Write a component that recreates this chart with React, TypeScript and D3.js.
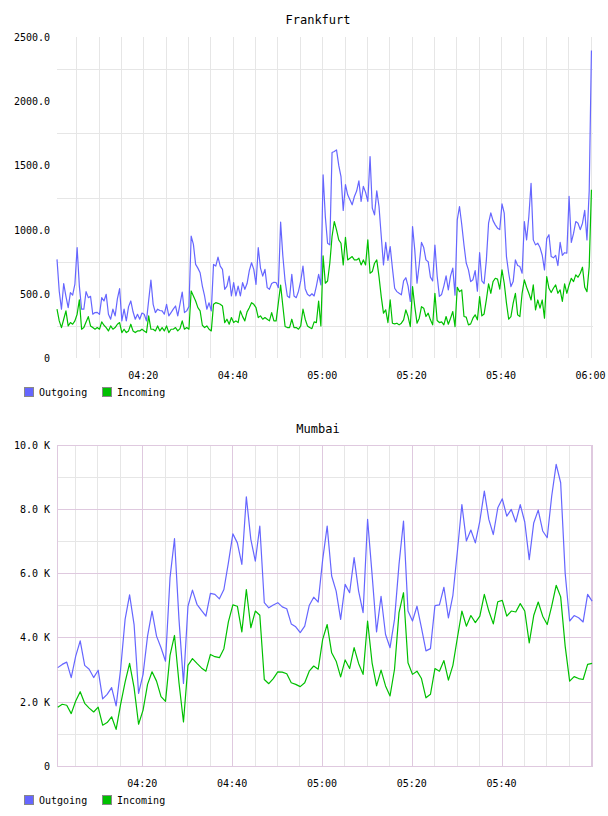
import React from 'react';
import * as d3 from 'd3';

const FONT = '"DejaVu Sans Mono", monospace';
const OUT_COLOR = '#6666ff';
const IN_COLOR = '#00c000';
const GRID_GRAY = '#e6e6e6';
const GRID_PINK = '#dfc9df';

const PLOT_LEFT = 57;
const PLOT_RIGHT = 593;

const SERIES_NAMES = ['Outgoing', 'Incoming'];

// Frankfurt, 30 s samples from 04:00:42
const frankfurtOutgoing = [
  768, 520, 380, 580, 480, 392, 509, 490, 575, 859,
  560, 380, 380, 517, 470, 480, 341, 354, 355, 340,
  470, 444, 496, 341, 302, 380, 328, 460, 540, 289,
  380, 289, 400, 444, 360, 302, 340, 302, 350, 341,
  289, 450, 607, 418, 354, 380, 370, 367, 341, 418,
  328, 354, 380, 405, 328, 420, 514, 354, 367, 400,
  949, 885, 729, 700, 664, 560, 483, 380, 430, 367,
  729, 716, 786, 716, 690, 535, 560, 638, 483, 587,
  483, 560, 483, 587, 535, 580, 680, 742, 690, 574,
  859, 700, 638, 690, 548, 535, 580, 590, 587, 548,
  1058, 794, 600, 483, 470, 651, 483, 470, 520, 600,
  716, 540, 496, 483, 500, 483, 560, 651, 569, 1426,
  1100, 894, 881, 1600, 1608, 1621, 1500, 1413, 1150, 1350,
  1271, 1232, 1193, 1258, 1300, 1380, 1219, 1336, 1290, 1219,
  1569, 1167, 1115, 1302, 1180, 950, 725, 900, 760, 868,
  700, 543, 517, 504, 492, 600, 625, 560, 440, 1024,
  840, 582, 730, 900, 860, 764, 750, 630, 600, 880,
  640, 480, 495, 560, 640, 530, 640, 700, 490, 1076,
  1180, 1040, 880, 740, 686, 595, 610, 680, 520, 820,
  600, 580, 760, 1050, 1130, 1070, 1037, 1011, 1000, 1200,
  1128, 790, 660, 556, 595, 764, 720, 712, 660, 1063,
  920, 1100, 1361, 920, 881, 894, 860, 800, 686, 930,
  960, 790, 780, 800, 720, 900, 800, 820, 816, 1258,
  900, 970, 1063, 1050, 1000, 1050, 1150, 920, 1300, 2395,
];

const frankfurtIncoming = [
  380, 289, 237, 302, 367, 250, 276, 263, 289, 341,
  452, 224, 237, 281, 322, 250, 237, 224, 237, 224,
  281, 255, 237, 211, 250, 224, 237, 263, 276, 198,
  224, 198, 211, 263, 211, 198, 211, 211, 224, 211,
  198, 328, 224, 224, 211, 250, 211, 237, 211, 250,
  198, 224, 224, 237, 211, 229, 289, 224, 237, 224,
  522, 483, 444, 392, 367, 255, 237, 250, 224, 211,
  418, 431, 426, 418, 405, 276, 302, 263, 315, 276,
  289, 276, 367, 322, 289, 359, 392, 431, 418, 392,
  315, 328, 302, 315, 302, 289, 354, 289, 289, 431,
  568, 405, 245, 237, 237, 302, 237, 237, 224, 250,
  380, 302, 250, 237, 229, 281, 276, 444, 250, 795,
  582, 600, 738, 946, 1063, 998, 920, 894, 725, 940,
  764, 777, 790, 764, 764, 777, 725, 764, 725, 920,
  660, 673, 738, 764, 634, 478, 349, 375, 276, 452,
  271, 266, 271, 258, 271, 297, 375, 323, 245, 556,
  400, 271, 310, 400, 388, 323, 349, 297, 258, 504,
  292, 276, 281, 258, 323, 263, 310, 362, 245, 551,
  517, 530, 323, 318, 258, 266, 310, 336, 297, 478,
  328, 343, 452, 577, 504, 595, 621, 614, 536, 686,
  582, 427, 302, 323, 427, 504, 336, 323, 504, 608,
  551, 504, 452, 569, 375, 452, 388, 452, 310, 634,
  543, 510, 543, 569, 504, 530, 440, 577, 504, 569,
  621, 595, 647, 629, 660, 707, 551, 517, 712, 1310,
];

// Mumbai, 1 min samples from 04:01:10
const mumbaiOutgoing = [
  3060, 3160, 3230, 2750, 3420, 3890, 3130, 3010, 2750, 2980,
  2090, 2230, 2440, 1870, 3010, 4560, 5320, 4400, 2260, 2850,
  4040, 4820, 4040, 3680, 3260, 5850, 7070, 4560, 2570, 4970,
  5470, 5030, 4840, 4660, 5370, 5340, 5200, 5490, 6320, 7220,
  6940, 6270, 8370, 7050, 6370, 7460, 5080, 4920, 5010, 5080,
  4950, 4890, 4420, 4330, 4150, 4350, 4990, 5250, 5100, 6420,
  7460, 5910, 5440, 4560, 5650, 5390, 6480, 5440, 4770, 7670,
  5960, 4170, 5280, 4090, 3680, 4560, 6270, 7620, 4820, 4510,
  4970, 4300, 3580, 3650, 4990, 5010, 5560, 4610, 5310, 6680,
  8130, 7000, 7340, 6940, 7620, 8550, 7670, 7200, 8030, 8310,
  7770, 7980, 7590, 8130, 7590, 6420, 7560, 7960, 7310, 7100,
  8390, 9380, 8810, 6000, 4510, 4680, 4610, 4480, 5340, 5130,
];

const mumbaiIncoming = [
  1830, 1920, 1890, 1630, 2020, 2310, 1950, 1800, 1680, 1830,
  1270, 1350, 1530, 1140, 1920, 2610, 3190, 2440, 1300, 1740,
  2540, 2930, 2640, 2160, 2010, 3440, 4060, 2590, 1370, 3130,
  3340, 3190, 3050, 2950, 3470, 3400, 3370, 3650, 4480, 5010,
  4970, 4170, 5490, 4300, 4820, 4690, 2690, 2560, 2720, 2930,
  2920, 2870, 2590, 2540, 2470, 2590, 2950, 3110, 3010, 3940,
  4400, 3520, 3260, 2770, 3300, 3030, 3680, 3190, 2850, 4510,
  3210, 2490, 2980, 2490, 2180, 3010, 4770, 5390, 3210, 2850,
  2950, 2720, 2120, 2230, 3030, 2950, 3280, 2670, 3130, 3990,
  4820, 4350, 4680, 4460, 4660, 5340, 4820, 4420, 5110, 5150,
  4660, 4820, 4790, 5050, 4820, 3830, 4680, 5100, 4660, 4400,
  4970, 5620, 5260, 3730, 2640, 2780, 2720, 2690, 3160, 3190,
];

const frankfurtTicks = [0, 500, 1000, 1500, 2000, 2500];
const mumbaiTicks = [0, 2000, 4000, 6000, 8000, 10000];

const at = (h: number, m: number, s: number) => new Date(2021, 5, 1, h, m, s);
const fmtTime = d3.timeFormat('%H:%M');

type PanelProps = {
  title: string;
  titleY: number;
  top: number;
  bottom: number;
  domain: [Date, Date];
  dataStart: Date;
  stepSec: number;
  outgoing: number[];
  incoming: number[];
  ticks: number[];
  fmt: (v: number) => string;
  framed: boolean;
  legendY: number;
  endLabel: boolean;
};

function Panel(p: PanelProps) {
  const x = d3.scaleTime().domain(p.domain).range([PLOT_LEFT, PLOT_RIGHT]);
  const yMax = p.ticks[p.ticks.length - 1];
  const step = p.ticks[1] - p.ticks[0];
  const y = d3.scaleLinear().domain([0, yMax]).range([p.bottom, p.top]);

  const when = (i: number) => new Date(p.dataStart.getTime() + i * p.stepSec * 1000);
  const line = d3
    .line<number>()
    .x((_, i) => x(when(i)))
    .y((v) => y(v));

  const fiveMin = x.ticks(d3.timeMinute.every(5)!);
  const labelTicks = fiveMin.filter((d) => d.getMinutes() % 20 === 0 && (p.endLabel || d.getHours() < 6));

  // horizontal rules: every half step; the plain panel only keeps the odd ones
  const halfSteps = d3.range(0, yMax + 1, step / 2);
  const hMinor = halfSteps.filter((v) => v % step !== 0);
  const hMajor = p.framed ? halfSteps.filter((v) => v % step === 0) : [];
  const vMinor = p.framed ? fiveMin.filter((d) => d.getMinutes() % 20 !== 0) : fiveMin;
  const vMajor = p.framed ? fiveMin.filter((d) => d.getMinutes() % 20 === 0) : [];
  const crisp = (n: number) => Math.round(n) + 0.5;

  return (
    <g fontFamily={FONT} fill="#000">
      <text x={318} y={p.titleY} fontSize={12} textAnchor="middle">
        {p.title}
      </text>

      <g shapeRendering="crispEdges" strokeWidth={1}>
        {hMinor.map((v) => (
          <line key={'hm' + v} x1={PLOT_LEFT} x2={PLOT_RIGHT} y1={crisp(y(v))} y2={crisp(y(v))} stroke={GRID_GRAY} />
        ))}
        {vMinor.map((d) => (
          <line key={'vm' + d.getTime()} x1={crisp(x(d))} x2={crisp(x(d))} y1={p.top} y2={p.bottom} stroke={GRID_GRAY} />
        ))}
        {hMajor.map((v) => (
          <line key={'hM' + v} x1={PLOT_LEFT} x2={PLOT_RIGHT} y1={crisp(y(v))} y2={crisp(y(v))} stroke={GRID_PINK} />
        ))}
        {vMajor.map((d) => (
          <line key={'vM' + d.getTime()} x1={crisp(x(d))} x2={crisp(x(d))} y1={p.top} y2={p.bottom} stroke={GRID_PINK} />
        ))}
        {p.framed && (
          <rect
            x={PLOT_LEFT + 0.5}
            y={crisp(p.top)}
            width={PLOT_RIGHT - PLOT_LEFT - 1}
            height={Math.round(p.bottom) - Math.round(p.top)}
            fill="none"
            stroke={GRID_PINK}
          />
        )}
      </g>

      <path d={line(p.outgoing) ?? ''} fill="none" stroke={OUT_COLOR} strokeWidth={1.2} strokeLinejoin="round" />
      <path d={line(p.incoming) ?? ''} fill="none" stroke={IN_COLOR} strokeWidth={1.2} strokeLinejoin="round" />

      <g fontSize={10}>
        {p.ticks.map((v) => (
          <text key={'yl' + v} x={50} y={y(v) + 4} textAnchor="end">
            {p.fmt(v)}
          </text>
        ))}
        {labelTicks.map((d) => (
          <text key={'xl' + d.getTime()} x={x(d)} y={p.bottom + 21} textAnchor="middle">
            {fmtTime(d)}
          </text>
        ))}
      </g>

      <g fontSize={10}>
        {SERIES_NAMES.map((name, i) => {
          const lx = i === 0 ? 24.5 : 102.5;
          return (
            <g key={name}>
              <rect x={lx} y={p.legendY + 0.5} width={9} height={9} fill={i === 0 ? OUT_COLOR : IN_COLOR} stroke="#888" />
              <text x={lx + 14.5} y={p.legendY + 9}>
                {name}
              </text>
            </g>
          );
        })}
      </g>
    </g>
  );
}

export default function App() {
  return (
    <div style={{ position: 'absolute', left: 0, top: 0, width: 608, height: 816, background: '#fff' }}>
      <svg width={608} height={816} style={{ display: 'block' }}>
        <Panel
          title="Frankfurt"
          titleY={24}
          top={37}
          bottom={358}
          domain={[at(4, 0, 42), at(6, 0, 33)]}
          dataStart={at(4, 0, 42)}
          stepSec={30}
          outgoing={frankfurtOutgoing}
          incoming={frankfurtIncoming}
          ticks={frankfurtTicks}
          fmt={(v) => (v === 0 ? '0' : d3.format('.1f')(v))}
          framed={false}
          legendY={387}
          endLabel={true}
        />
        <Panel
          title="Mumbai"
          titleY={433}
          top={444.5}
          bottom={766}
          domain={[at(4, 1, 0), at(6, 0, 22)]}
          dataStart={at(4, 1, 10)}
          stepSec={60}
          outgoing={mumbaiOutgoing}
          incoming={mumbaiIncoming}
          ticks={mumbaiTicks}
          fmt={(v) => (v === 0 ? '0' : `${(v / 1000).toFixed(1)} K`)}
          framed={true}
          legendY={795}
          endLabel={false}
        />
      </svg>
    </div>
  );
}
